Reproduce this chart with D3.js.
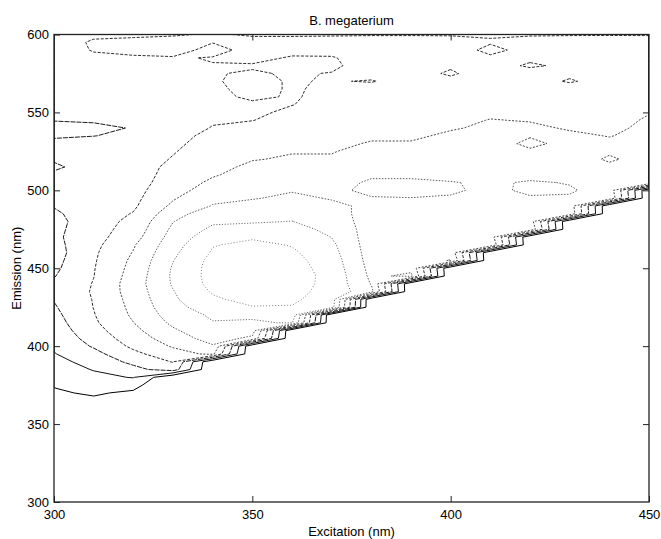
<!DOCTYPE html>
<html>
<head>
<meta charset="utf-8">
<script src="https://cdn.jsdelivr.net/npm/d3@7"></script>
<style>
  body { margin: 0; background: #fff; }
  svg { display: block; }
  text { font-family: "Liberation Sans", Arial, Helvetica, sans-serif; fill: #000; }
</style>
</head>
<body>
<svg id="chart" width="661" height="539"></svg>
<script>
// Excitation–emission matrix of B. megaterium, drawn as a contour plot
const title = "B. megaterium";
const xLabel = "Excitation (nm)";
const yLabel = "Emission (nm)";

// measurement grid (nm)
const excitation = d3.range(300, 451, 10);  // 16 excitation wavelengths
const emission = d3.range(300, 601, 5);     // 61 emission wavelengths

// contour levels (relative intensity)
const levels = [1, 2, 3, 4, 5, 6, 7, 8];

const xTicks = [300, 350, 400, 450];
const yTicks = [300, 350, 400, 450, 500, 550, 600];

// one emission spectrum (300 → 600 nm, 5 nm steps) per excitation wavelength;
// zeros below the scatter cut-off
const spectra = [
  /*ex 300*/ [0,0,0,0,0,0,0,0,0,
    0.15,0.3,0.45,0.6,0.75,0.9,1.05,1.3,1.5,1.7,1.95,2.15,2.3,2.45,2.6,2.75,2.9,3.05,3.15,3.15,
    2.95,2.8,2.7,2.6,2.7,2.8,2.75,2.7,2.85,3.05,3.15,3.2,3.2,3.15,2.85,3.1,3.2,3.2,2.9,2.6,
    3.05,3.3,3.3,3.3,3.35,3.4,3.45,3.5,3.55,3.6,3.6,3.6],
  /*ex 310*/ [0,0,0,0,0,0,0,0,0,0,0,
    0.4,0.6,0.85,1.1,1.4,1.75,2.05,2.35,2.7,3.1,3.4,3.65,3.85,3.95,4.02,4.05,4.1,4.05,3.98,3.95,
    3.9,3.85,3.75,3.65,3.6,3.55,3.5,3.5,3.5,3.45,3.45,3.4,3.4,3.4,3.4,3.4,2.98,2.8,3.1,3.4,
    3.45,3.5,3.5,3.5,3.55,3.65,3.85,4.05,4.1,3.85],
  /*ex 320*/ [0,0,0,0,0,0,0,0,0,0,0,0,0,
    0.6,0.85,1.3,2.05,2.7,3.25,3.75,4.2,4.5,4.75,4.98,5.15,5.25,5.35,5.45,5.5,5.4,5.3,5.2,5.05,
    4.9,4.6,4.4,4.25,4.05,3.85,3.75,3.7,3.65,3.6,3.6,3.6,3.6,3.6,3.2,3.05,3.3,3.6,3.6,3.6,
    3.65,3.7,3.75,3.8,3.9,4.2,4.15,3.9],
  /*ex 330*/ [0,0,0,0,0,0,0,0,0,0,0,0,0,0,0,0,0,
    3.5,4.05,4.6,5.1,5.5,5.85,6.2,6.45,6.7,6.85,6.95,7.1,7.15,7.1,6.97,6.8,6.6,6.4,6.2,5.97,
    5.6,5.2,4.9,4.6,4.4,4.3,4.2,4.05,3.95,3.85,3.75,3.5,3.6,3.7,3.75,3.75,3.8,3.8,3.85,3.85,
    3.95,4.25,4.2,3.95],
  /*ex 340*/ [0,0,0,0,0,0,0,0,0,0,0,0,0,0,0,0,0,0,0,
    5.2,5.9,6.4,6.75,6.95,7.15,7.5,7.85,8.1,8.3,8.35,8.35,8.3,8.1,7.95,7.6,7.2,6.85,6.6,6.05,
    5.8,5.5,5.2,4.9,4.7,4.55,4.4,4.3,4.2,4.05,3.9,3.8,3.8,3.85,3.9,3.95,3.97,3.98,4.03,3.8,
    4.02,4.05],
  /*ex 350*/ [0,0,0,0,0,0,0,0,0,0,0,0,0,0,0,0,0,0,0,0,0,
    5.8,6.4,6.85,7.2,7.95,8.3,8.55,8.7,8.8,8.8,8.7,8.5,8.2,7.9,7.4,6.9,6.55,6.25,5.95,5.75,
    5.6,5.4,5.2,4.95,4.75,4.6,4.45,4.25,3.98,3.85,3.9,4.1,4.15,4.15,4.05,3.95,4.15,4.2,4.15,3.95],
  /*ex 360*/ [0,0,0,0,0,0,0,0,0,0,0,0,0,0,0,0,0,0,0,0,0,0,0,
    7.1,7.6,7.95,8.15,8.3,8.4,8.45,8.4,8.3,8.15,7.95,7.65,7.35,7.02,6.7,6.4,6.15,5.95,5.75,5.55,
    5.3,5.1,4.95,4.75,4.6,4.45,4.3,4.15,3.98,3.95,3.95,3.95,3.95,3.9,3.95,4.15,4.15,3.95],
  /*ex 370*/ [0,0,0,0,0,0,0,0,0,0,0,0,0,0,0,0,0,0,0,0,0,0,0,0,0,
    7.4,7.55,7.65,7.7,7.7,7.6,7.5,7.35,7.2,6.98,6.75,6.5,6.3,6.15,5.95,5.8,5.6,5.4,5.25,5.1,
    4.95,4.85,4.75,4.65,4.5,4.35,4.25,4.15,4.1,4.05,4.02,3.9,3.95,4.2,4.2,3.95],
  /*ex 380*/ [0,0,0,0,0,0,0,0,0,0,0,0,0,0,0,0,0,0,0,0,0,0,0,0,0,0,0,
    6.3,5.95,5.8,5.7,5.6,5.55,5.5,5.5,5.55,5.6,5.7,5.85,5.95,6.2,6.15,5.85,5.6,5.45,5.3,5.05,
    4.9,4.8,4.7,4.6,4.5,4.4,4.3,3.95,4.25,4.25,4.3,4.3,4.3,3.95],
  /*ex 390*/ [0,0,0,0,0,0,0,0,0,0,0,0,0,0,0,0,0,0,0,0,0,0,0,0,0,0,0,0,0,
    6.2,5.75,5.55,5.45,5.35,5.3,5.3,5.35,5.5,5.7,5.98,6.3,6.2,5.8,5.55,5.35,5.2,5.05,4.9,4.8,
    4.7,4.6,4.5,4.45,4.4,4.35,4.3,4.2,4.25,4.3,4.3,3.95],
  /*ex 400*/ [0,0,0,0,0,0,0,0,0,0,0,0,0,0,0,0,0,0,0,0,0,0,0,0,0,0,0,0,0,0,0,
    6.05,5.6,5.4,5.3,5.3,5.3,5.4,5.6,5.9,6.15,6.05,5.7,5.5,5.35,5.3,5.25,5.1,4.95,4.85,4.75,
    4.65,4.55,4.45,4.2,3.9,4.1,4.3,4.3,4.25,3.95],
  /*ex 410*/ [0,0,0,0,0,0,0,0,0,0,0,0,0,0,0,0,0,0,0,0,0,0,0,0,0,0,0,0,0,0,0,0,0,
    5.9,5.5,5.35,5.3,5.35,5.45,5.6,5.75,5.85,5.7,5.55,5.45,5.4,5.3,5.2,5.1,5.02,4.9,4.8,4.7,
    4.6,4.5,4.4,4.3,4.1,3.85,4.05,3.95],
  /*ex 420*/ [0,0,0,0,0,0,0,0,0,0,0,0,0,0,0,0,0,0,0,0,0,0,0,0,0,0,0,0,0,0,0,0,0,0,0,
    5.8,5.45,5.4,5.5,5.9,6.2,6.1,5.7,5.45,5.3,5.1,4.85,5.05,5.1,4.97,4.85,4.75,4.6,4.5,4.4,
    4.3,3.9,4.15,4.2,4.2,3.95],
  /*ex 430*/ [0,0,0,0,0,0,0,0,0,0,0,0,0,0,0,0,0,0,0,0,0,0,0,0,0,0,0,0,0,0,0,0,0,0,0,0,0,
    5.75,5.6,5.9,6.1,5.95,5.7,5.5,5.4,5.3,5.2,5.1,4.95,4.85,4.75,4.65,4.55,4.45,3.9,4.2,4.15,
    4.25,4.3,4.3,3.95],
  /*ex 440*/ [0,0,0,0,0,0,0,0,0,0,0,0,0,0,0,0,0,0,0,0,0,0,0,0,0,0,0,0,0,0,0,0,0,0,0,0,0,0,0,
    5.85,5.6,5.4,5.25,5.15,4.9,5.1,5.1,4.98,4.9,4.85,4.75,4.65,4.55,4.5,4.4,4.35,4.3,4.3,4.35,
    4.35,3.95],
  /*ex 450*/ [0,0,0,0,0,0,0,0,0,0,0,0,0,0,0,0,0,0,0,0,0,0,0,0,0,0,0,0,0,0,0,0,0,0,0,0,0,0,0,0,0,
    5.9,5.55,5.4,5.3,5.25,5.2,5.15,5.1,5.05,4.98,4.9,4.8,4.7,4.6,4.5,4.45,4.4,4.3,4.3,3.95]
];

// line style per contour level, lowest first
const levelStyles = [
  { stroke: "#000",    dash: null,      width: 1.0 },
  { stroke: "#111",    dash: null,      width: 1.0 },
  { stroke: "#1c1c1c", dash: "5,1",     width: 1.0 },
  { stroke: "#2e2e2e", dash: "3,1.5",   width: 1.0 },
  { stroke: "#4a4a4a", dash: "2,1.5",   width: 1.0 },
  { stroke: "#5e5e5e", dash: "1.5,1.5", width: 1.0 },
  { stroke: "#707070", dash: "1.2,1.6", width: 1.0 },
  { stroke: "#808080", dash: "1,2",     width: 1.0 }
];

const svg = d3.select("#chart");
const x = d3.scaleLinear().domain([300, 450]).range([54, 649]);
const y = d3.scaleLinear().domain([300, 600]).range([502, 34.5]);

// flatten: grid column = excitation, grid row = emission (increasing)
const nx = excitation.length, ny = emission.length;
const values = new Array(nx * ny);
for (let i = 0; i < nx; i++) {
  for (let j = 0; j < ny; j++) values[j * nx + i] = spectra[i][j];
}

const contours = d3.contours().size([nx, ny]).thresholds(levels)(values);

// grid coordinate -> wavelength; samples sit at cell centres, edges clamp to the frame
const dExc = excitation[1] - excitation[0];
const dEm = emission[1] - emission[0];
const clamp = (v, lo, hi) => Math.max(lo, Math.min(hi, v));
const gridExc = g => excitation[0] + dExc * (clamp(g, 0.5, nx - 0.5) - 0.5);
const gridEm = g => emission[0] + dEm * (clamp(g, 0.5, ny - 0.5) - 0.5);
const path = d3.geoPath(d3.geoTransform({
  point(gx, gy) { this.stream.point(x(gridExc(gx)), y(gridEm(gy))); }
}));

svg.append("defs").append("clipPath").attr("id", "plot-clip")
  .append("rect")
  .attr("x", x(300)).attr("y", y(600))
  .attr("width", x(450) - x(300)).attr("height", y(300) - y(600));

const contourLayer = svg.append("g").attr("clip-path", "url(#plot-clip)");
contourLayer.selectAll("path")
  .data(contours.slice().reverse())
  .join("path")
  .attr("d", path)
  .attr("fill", "none")
  .attr("stroke-linejoin", "round")
  .each(function(d) {
    const s = levelStyles[levels.indexOf(d.value)];
    d3.select(this)
      .attr("stroke", s.stroke)
      .attr("stroke-width", s.width)
      .attr("stroke-dasharray", s.dash);
  });

// axes: ticks point inward on all four sides
const tickLen = 6;
const axisBottomG = svg.append("g").attr("transform", `translate(0,${y(300)})`)
  .call(d3.axisBottom(x).tickValues(xTicks).tickSize(-tickLen).tickPadding(8).tickFormat(d3.format("d")));
const axisTopG = svg.append("g").attr("transform", `translate(0,${y(600)})`)
  .call(d3.axisTop(x).tickValues(xTicks.slice(1, -1)).tickSize(-tickLen).tickFormat(""));
const axisLeftG = svg.append("g").attr("transform", `translate(${x(300)},0)`)
  .call(d3.axisLeft(y).tickValues(yTicks).tickSize(-tickLen).tickPadding(5).tickFormat(d3.format("d")));
const axisRightG = svg.append("g").attr("transform", `translate(${x(450)},0)`)
  .call(d3.axisRight(y).tickValues(yTicks.slice(1, -1)).tickSize(-tickLen).tickFormat(""));

[axisBottomG, axisTopG, axisLeftG, axisRightG].forEach(a => {
  a.select(".domain").remove();
  a.selectAll(".tick line").attr("stroke", "#222").attr("stroke-width", 1);
  a.selectAll(".tick text").attr("font-size", 13).attr("fill", "#000")
    .style("font-family", "'Liberation Sans', Arial, sans-serif");
});

// plot frame
svg.append("rect")
  .attr("x", x(300)).attr("y", y(600))
  .attr("width", x(450) - x(300)).attr("height", y(300) - y(600))
  .attr("fill", "none").attr("stroke", "#222").attr("stroke-width", 1.3);

svg.append("text")
  .attr("x", (x(300) + x(450)) / 2).attr("y", 25)
  .attr("text-anchor", "middle").attr("font-size", 13)
  .text(title);

svg.append("text")
  .attr("x", (x(300) + x(450)) / 2).attr("y", 536)
  .attr("text-anchor", "middle").attr("font-size", 13)
  .text(xLabel);

svg.append("text")
  .attr("transform", `translate(21,${(y(300) + y(600)) / 2}) rotate(-90)`)
  .attr("text-anchor", "middle").attr("font-size", 13)
  .text(yLabel);
</script>
</body>
</html>
